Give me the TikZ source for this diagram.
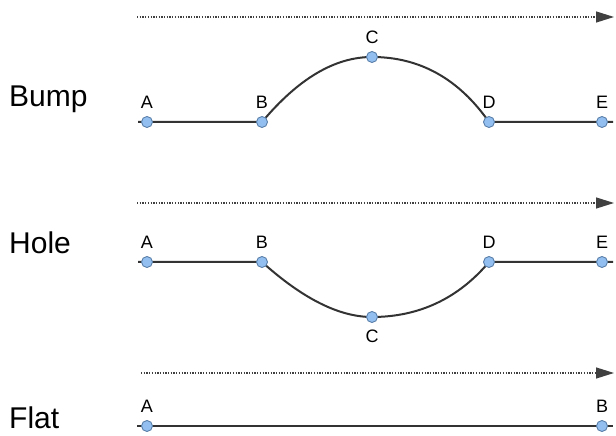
\documentclass[tikz,border=0pt]{standalone}
\usepackage{fontspec}
\setmainfont{Liberation Sans}
\usetikzlibrary{arrows.meta,backgrounds}
\definecolor{ptfill}{HTML}{92BFF0}
\definecolor{ptedge}{HTML}{5A7FA8}
\definecolor{road}{HTML}{333333}
\begin{document}
\begin{tikzpicture}[x=1pt, y=1pt,
    pt/.style={circle, draw=ptedge, fill=ptfill, line width=0.9pt, minimum size=11pt, inner sep=0pt},
    every label/.style={font=\fontsize{18}{18}\selectfont, inner sep=0pt},
    label distance=7pt,
    road/.style={draw=road, line width=2pt},
    motion/.style={draw=black!75, line width=1.3pt, dash pattern=on 1.3pt off 1.4pt, -{Triangle[length=18pt, width=11pt]}},
    rowname/.style={anchor=base west, inner sep=0pt, font=\fontsize{30}{36}\selectfont}]
    \useasboundingbox (0,0) rectangle (616,436);
    % bump
    \node[rowname] (bump) at (9,329) {Bump};
    \coordinate (bumpL) at (138,314);
    \coordinate (bumpR) at (613,314);
    \coordinate (bumpS) at (137,419);
    \coordinate (bumpT) at (614,419);
    \node[pt, label=above:A] (bA) at (147,314) {};
    \node[pt, label=above:B] (bB) at (262,314) {};
    \node[pt, label=above:C] (bC) at (372,379) {};
    \node[pt, label=above:D] (bD) at (489,314) {};
    \node[pt, label=above:E] (bE) at (602,314) {};
    % hole
    \node[rowname] (hole) at (9,182) {Hole};
    \coordinate (holeL) at (138,174);
    \coordinate (holeR) at (613,174);
    \coordinate (holeS) at (137,233);
    \coordinate (holeT) at (614,233);
    \node[pt, label=above:A] (hA) at (147,174) {};
    \node[pt, label=above:B] (hB) at (262,174) {};
    \node[pt, label=below:C] (hC) at (372,119) {};
    \node[pt, label=above:D] (hD) at (489,174) {};
    \node[pt, label=above:E] (hE) at (602,174) {};
    % flat
    \node[rowname] (flat) at (9,7) {Flat};
    \coordinate (flatL) at (137,10);
    \coordinate (flatR) at (613,10);
    \coordinate (flatS) at (141,63);
    \coordinate (flatT) at (614,63);
    \node[pt, label=above:A] (fA) at (147,10) {};
    \node[pt, label=above:B] (fB) at (602,10) {};
    \begin{scope}[on background layer]
        \draw[motion] (bumpS) -- (bumpT);
        \draw[motion] (holeS) -- (holeT);
        \draw[motion] (flatS) -- (flatT);
        \draw[road] (bumpL) -- (bB.center)
            to[out=50, in=180, out looseness=1.13, in looseness=0.75] (bC.center)
            to[out=0, in=125, out looseness=0.91, in looseness=1.01] (bD.center) -- (bumpR);
        \draw[road] (holeL) -- (hB.center)
            to[out=-42, in=180, out looseness=1.14, in looseness=0.68] (hC.center)
            to[out=0, in=-130, out looseness=0.93, in looseness=0.94] (hD.center) -- (holeR);
        \draw[road] (flatL) -- (flatR);
    \end{scope}
\end{tikzpicture}
\end{document}
